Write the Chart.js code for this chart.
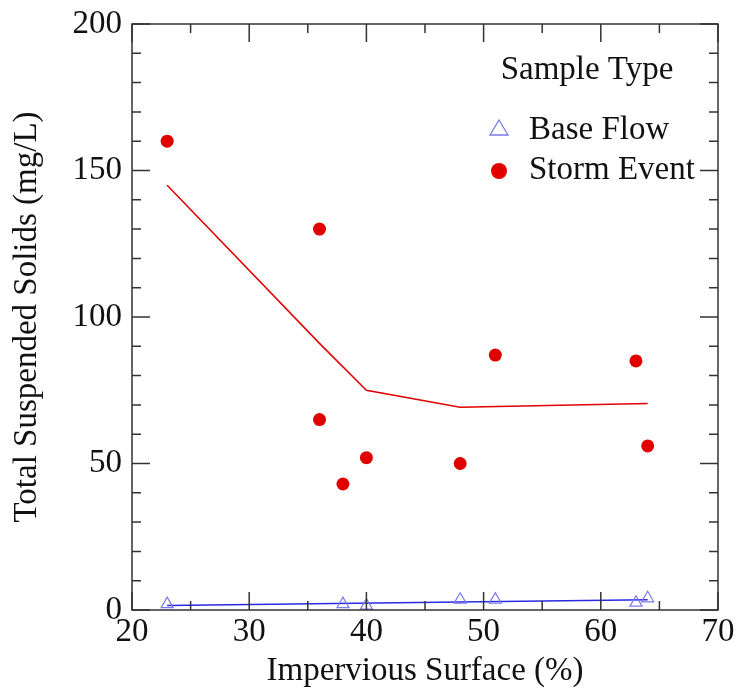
<!DOCTYPE html>
<html>
<head>
<meta charset="utf-8">
<script src="https://cdn.jsdelivr.net/npm/chart.js@4.4.0/dist/chart.umd.min.js"></script>
<style>
  body { margin: 0; background: #fff; }
  #wrap { width: 736px; height: 698px; }
</style>
</head>
<body>
<div id="wrap"><canvas id="myChart" width="736" height="698"></canvas></div>
<script>
// Dados
const baseX = [23, 38, 40, 48, 51, 63, 64];
const baseY = [2, 2, 1.5, 3.5, 3.5, 2.5, 4];
const baseFitX = [23, 64];
const baseFitY = [1.5, 3.5];

const stormX = [23, 36, 36, 38, 40, 48, 51, 63, 64];
const stormY = [160, 130, 65, 43, 52, 50, 87, 85, 56];
const stormFitX = [23, 36, 40, 48, 64];
const stormFitY = [145, 91, 75, 69.2, 70.5];

const xTicks = [20, 30, 40, 50, 60, 70];
const yTicks = [0, 50, 100, 150, 200];

const FONT = "'Liberation Serif', 'Times New Roman', serif";
const AXIS = '#333333';
const RED = '#e00000';
const BLUE = '#2a2ae0';
const LBLUE = '#7a7aee';

function pts(xs, ys) {
    return xs.map((x, i) => ({ x: x, y: ys[i] }));
}

// Ticks para dentro nos quatro lados
const innerTicks = {
    id: 'innerTicks',
    afterDatasetsDraw(chart) {
        const c = chart.ctx;
        const a = chart.chartArea;
        const xs = chart.scales.x, ys = chart.scales.y;
        c.save();
        c.strokeStyle = AXIS;
        c.lineWidth = 1.5;
        c.strokeRect(a.left, a.top, a.right - a.left, a.bottom - a.top);
        for (let v = 20; v <= 70; v += 5) {
            const p = xs.getPixelForValue(v);
            const len = v % 10 === 0 ? 18 : 9;
            c.beginPath();
            c.moveTo(p, a.bottom); c.lineTo(p, a.bottom - len);
            c.moveTo(p, a.top); c.lineTo(p, a.top + len);
            c.stroke();
        }
        for (let v = 0; v <= 200; v += 10) {
            const p = ys.getPixelForValue(v);
            const len = v % 50 === 0 ? 18 : 9;
            c.beginPath();
            c.moveTo(a.left, p); c.lineTo(a.left + len, p);
            c.moveTo(a.right, p); c.lineTo(a.right - len, p);
            c.stroke();
        }
        c.restore();
    }
};

// Legenda dentro da área do gráfico
const innerLegend = {
    id: 'innerLegend',
    afterDraw(chart) {
        const c = chart.ctx;
        c.save();
        c.fillStyle = '#111';
        c.font = '33px ' + FONT;
        c.textBaseline = 'middle';
        c.textAlign = 'center';
        c.fillText('Sample Type', 587, 70);
        c.textAlign = 'left';
        c.fillText('Base Flow', 529, 130);
        c.fillText('Storm Event', 529, 170);
        // marcadores
        c.strokeStyle = LBLUE;
        c.lineWidth = 1.3;
        c.beginPath();
        c.moveTo(499, 120); c.lineTo(508, 135); c.lineTo(490, 135); c.closePath();
        c.stroke();
        c.fillStyle = RED;
        c.beginPath();
        c.arc(499, 171, 8, 0, Math.PI * 2);
        c.fill();
        c.restore();
    }
};

const ctx = document.getElementById('myChart').getContext('2d');
new Chart(ctx, {
    type: 'scatter',
    data: {
        datasets: [
            {
                label: 'Storm fit',
                data: pts(stormFitX, stormFitY),
                showLine: true,
                borderColor: RED,
                borderWidth: 1.5,
                pointRadius: 0,
                order: 3
            },
            {
                label: 'Base fit',
                data: pts(baseFitX, baseFitY),
                showLine: true,
                borderColor: BLUE,
                borderWidth: 1.5,
                pointRadius: 0,
                order: 3
            },
            {
                label: 'Base Flow',
                data: pts(baseX, baseY),
                pointStyle: 'triangle',
                pointRadius: 7,
                backgroundColor: 'rgba(0,0,0,0)',
                borderColor: LBLUE,
                borderWidth: 1.2,
                order: 1
            },
            {
                label: 'Storm Event',
                data: pts(stormX, stormY),
                pointStyle: 'circle',
                pointRadius: 6.5,
                backgroundColor: RED,
                borderColor: RED,
                borderWidth: 0,
                order: 1
            }
        ]
    },
    options: {
        responsive: false,
        animation: false,
        layout: { padding: { top: 24, right: 18, left: 0, bottom: 0 } },
        plugins: {
            legend: { display: false },
            tooltip: { enabled: false }
        },
        scales: {
            x: {
                type: 'linear',
                min: 20,
                max: 70,
                afterBuildTicks: s => { s.ticks = xTicks.map(v => ({ value: v })); },
                afterFit: s => { s.height = 88; s.paddingLeft = 0; s.paddingRight = 0; },
                grid: { display: false, drawTicks: false },
                border: { display: false },
                ticks: { color: '#111', font: { family: FONT, size: 33 }, padding: 3 },
                title: { display: true, text: 'Impervious Surface (%)', color: '#111',
                         font: { family: FONT, size: 33 }, padding: { top: 0, bottom: 7 } }
            },
            y: {
                type: 'linear',
                min: 0,
                max: 200,
                afterBuildTicks: s => { s.ticks = yTicks.map(v => ({ value: v })); },
                afterFit: s => { s.width = 132; s.paddingTop = 0; s.paddingBottom = 0; },
                grid: { display: false, drawTicks: false },
                border: { display: false },
                ticks: { color: '#111', font: { family: FONT, size: 33 }, padding: 10 },
                title: { display: true, text: 'Total Suspended Solids (mg/L)', color: '#111',
                         font: { family: FONT, size: 33 }, padding: { top: 8, bottom: 0 } }
            }
        }
    },
    plugins: [innerTicks, innerLegend]
});
</script>
</body>
</html>
